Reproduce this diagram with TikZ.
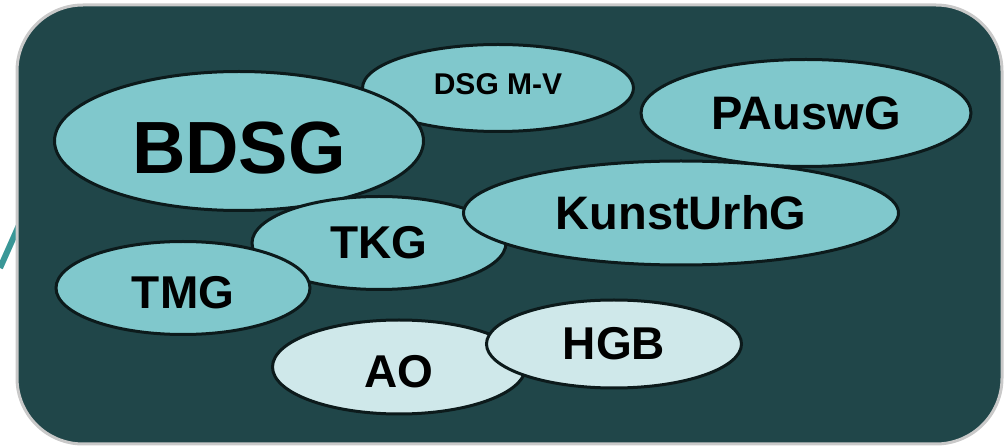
\documentclass[tikz,border=0pt]{standalone}
\usepackage{fontspec}
\setmainfont{Liberation Sans}
\usetikzlibrary{shapes.geometric}

\definecolor{boardbg}{HTML}{204649}
\definecolor{lawfill}{HTML}{80C8CC}
\definecolor{lawpale}{HTML}{CFE8EA}
\definecolor{lawline}{HTML}{0C1A1B}
\definecolor{frameline}{HTML}{C9C9C9}
\definecolor{accent}{HTML}{3A9797}

\tikzset{
    law/.style={draw=lawline, ellipse, fill=lawfill, line width=3pt,
        inner sep=0pt, font=\bfseries\fontsize{46}{50}\selectfont},
    oldlaw/.style={law, fill=lawpale}
}

\begin{document}
\begin{tikzpicture}[x=1pt, y=-1pt]

            \useasboundingbox (0,0) rectangle (1005,446);

            % short stroke behind the board
            \coordinate (stroke start) at (0,268);
            \coordinate (stroke end) at (24,214);
            \draw[accent, line width=6pt] (stroke start) -- (stroke end);

            \draw[frameline, fill=boardbg, line width=3pt, rounded corners=66pt]
                (17,5) rectangle (1002,444);

            \node[law, minimum width=271pt, minimum height=87pt,
                text height=21.5pt, text depth=8pt,
                font=\bfseries\fontsize{30}{34}\selectfont] (dsgmv) at (498,88) {DSG M-V};

            \node[
                law,
                minimum width=369pt,
                minimum height=139pt,
                text height=65pt,
                text depth=0pt,
                font=\bfseries\fontsize{74}{80}\selectfont
            ] (bdsg) at (239,141) {BDSG};

            \node[law, minimum width=330pt, minimum height=107pt,
                font=\bfseries\fontsize{47}{52}\selectfont] (pauswg) at (806,113) {PAuswG};

            \node[law, minimum width=254pt, minimum height=93pt] (tkg) at (379,243) {TKG};

            \node[law, minimum width=435pt, minimum height=104pt,
                font=\bfseries\fontsize{47}{52}\selectfont] (kunsturhg) at (681,213) {KunstUrhG};

            \node[law, minimum width=254pt, minimum height=93pt,
                text height=41pt, text depth=0pt] (tmg) at (183,288) {TMG};

            \node[oldlaw, minimum width=253pt, minimum height=94pt,
                text height=41pt, text depth=0pt] (ao) at (399,367) {AO};
            \node[oldlaw, minimum width=255pt, minimum height=88pt] (hgb) at (614,344) {HGB};

        \end{tikzpicture}
\end{document}
